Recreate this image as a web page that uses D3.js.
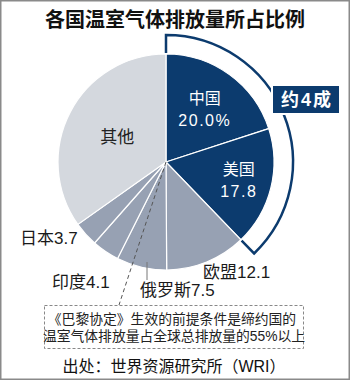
<!DOCTYPE html>
<html>
<head>
<meta charset="utf-8">
<script src="https://cdn.jsdelivr.net/npm/d3@7"></script>
<style>
  body { margin: 0; background: #fff; }
  svg { display: block; }
</style>
</head>
<body>
<div id="chart"></div>
<script>
// 各国温室气体排放量所占比例 (%)
const countries = ["中国", "美国", "欧盟", "俄罗斯", "印度", "日本", "其他"];
const shares = [20.0, 17.8, 12.1, 7.5, 4.1, 3.7, 34.8];
const shareLabels = ["20.0%", "17.8", "12.1", "7.5", "4.1", "3.7", ""];
const bracketCountries = ["中国", "美国"];

function buildPie() {
  const width = 350;
  const height = 380;
  const cx = 166, cy = 162;
  const radius = 108;
  const fontFamily = "'Liberation Sans', 'Noto Sans CJK SC', sans-serif";

  const navy = "#0c3b6e";
  const mid = "#97a1b3";
  const light = "#d4d8de";
  const fillOf = (name) => bracketCountries.includes(name) ? navy : (name === "其他" ? light : mid);

  const data = countries.map((c, i) => ({ name: c, value: shares[i], label: shareLabels[i] }));

  const svg = d3.select("#chart")
    .append("svg")
    .attr("width", width)
    .attr("height", height);

  // frame
  svg.append("rect")
    .attr("x", 0.75).attr("y", 0.75)
    .attr("width", width - 1.5).attr("height", height - 1.5)
    .attr("fill", "#fff")
    .attr("stroke", "#8a8a8a")
    .attr("stroke-width", 1.5);

  // title
  svg.append("text")
    .attr("x", 175).attr("y", 27)
    .attr("text-anchor", "middle")
    .attr("font-family", fontFamily)
    .attr("font-size", 20)
    .attr("font-weight", "bold")
    .attr("fill", "#111")
    .text("各国温室气体排放量所占比例");

  const pie = d3.pie().sort(null).value((d) => d.value);
  const arcs = pie(data);
  const arc = d3.arc().innerRadius(0).outerRadius(radius);

  const g = svg.append("g").attr("transform", `translate(${cx},${cy})`);

  g.selectAll(".slice")
    .data(arcs)
    .enter()
    .append("path")
    .attr("class", "slice")
    .attr("d", arc)
    .attr("fill", (d) => fillOf(d.data.name))
    .attr("stroke", "#fff")
    .attr("stroke-width", 1.2);

  // bracket around China + US ("约4成")
  const bracketArcs = arcs.filter((d) => bracketCountries.includes(d.data.name));
  const a0 = d3.min(bracketArcs, (d) => d.startAngle);
  const a1 = d3.max(bracketArcs, (d) => d.endAngle);
  const rOut = 127, rIn = radius + 1;
  const p = d3.path();
  const s0 = d3.pointRadial(a0, rIn), s1 = d3.pointRadial(a0, rOut);
  const e1 = d3.pointRadial(a1, rIn);
  p.moveTo(s0[0], s0[1]);
  p.lineTo(s1[0], s1[1]);
  p.arc(0, 0, rOut, a0 - Math.PI / 2, a1 - Math.PI / 2);
  p.lineTo(e1[0], e1[1]);
  g.append("path")
    .attr("d", p.toString())
    .attr("fill", "none")
    .attr("stroke", navy)
    .attr("stroke-width", 2.5)
    .attr("stroke-linejoin", "miter");

  // "约4成" tag
  svg.append("rect")
    .attr("x", 273).attr("y", 86)
    .attr("width", 66).attr("height", 27)
    .attr("fill", navy)
    .attr("stroke", "#fff")
    .attr("stroke-width", 4)
    .attr("paint-order", "stroke");
  svg.append("text")
    .attr("x", 307).attr("y", 106)
    .attr("text-anchor", "middle")
    .attr("font-family", fontFamily)
    .attr("font-size", 18)
    .attr("font-weight", "bold")
    .attr("letter-spacing", 2)
    .attr("fill", "#fff")
    .text("约4成");

  // labels inside the pie
  const insideRadius = { "中国": 66, "美国": 75, "其他": 55 };
  arcs.filter((d) => insideRadius[d.data.name]).forEach((d) => {
    const mida = (d.startAngle + d.endAngle) / 2;
    const [x, y] = d3.pointRadial(mida, insideRadius[d.data.name]);
    const onDark = bracketCountries.includes(d.data.name);
    const t = g.append("text")
      .attr("text-anchor", "middle")
      .attr("font-family", fontFamily)
      .attr("font-size", onDark ? 16 : 17)
      .attr("fill", onDark ? "#fff" : "#222");
    if (d.data.label) {
      t.append("tspan").attr("x", x).attr("y", y - 5).text(d.data.name);
      t.append("tspan").attr("x", x).attr("y", y + 17)
        .attr("letter-spacing", 1.5)
        .text(d.data.label);
    } else {
      t.attr("x", x).attr("y", y + 6).text(d.data.name);
    }
  });

  // labels outside the pie
  const outsidePos = {
    "欧盟": [203, 278],
    "俄罗斯": [140, 296],
    "印度": [52, 288],
    "日本": [20, 244]
  };
  arcs.filter((d) => outsidePos[d.data.name]).forEach((d) => {
    const [x, y] = outsidePos[d.data.name];
    svg.append("text")
      .attr("x", x).attr("y", y)
      .attr("font-family", fontFamily)
      .attr("font-size", 17)
      .attr("fill", "#1a1a1a")
      .text(d.data.name + d.data.label);
  });

  // leader for Russia
  svg.append("line")
    .attr("x1", 147).attr("y1", 262)
    .attr("x2", 147).attr("y2", 280)
    .attr("stroke", "#777")
    .attr("stroke-width", 1);

  // note box + dashed pointer
  svg.append("line")
    .attr("x1", cx).attr("y1", cy)
    .attr("x2", 119).attr("y2", 305)
    .attr("stroke", "#555")
    .attr("stroke-width", 1)
    .attr("stroke-dasharray", "4,3");
  svg.append("rect")
    .attr("x", 44.5).attr("y", 305.5)
    .attr("width", 259).attr("height", 43)
    .attr("fill", "#fff")
    .attr("stroke", "#888")
    .attr("stroke-width", 1)
    .attr("stroke-dasharray", "3,2");
  const note = svg.append("text")
    .attr("font-family", fontFamily)
    .attr("font-size", 13.8)
    .attr("fill", "#222")
    .attr("text-anchor", "middle");
  note.append("tspan").attr("x", 172).attr("y", 324).text("《巴黎协定》生效的前提条件是缔约国的");
  note.append("tspan").attr("x", 174).attr("y", 341).text("温室气体排放量占全球总排放量的55%以上");

  // source
  svg.append("text")
    .attr("x", 174).attr("y", 372)
    .attr("text-anchor", "middle")
    .attr("font-family", fontFamily)
    .attr("font-size", 16)
    .attr("fill", "#111")
    .text("出处：世界资源研究所（WRI）");
}

window.onload = buildPie;
</script>
</body>
</html>
